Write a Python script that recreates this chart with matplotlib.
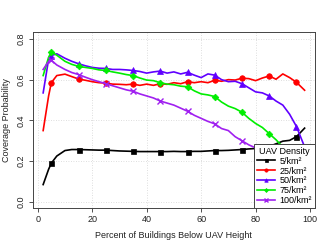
import matplotlib
matplotlib.use("Agg")
import matplotlib.pyplot as plt

# percent of buildings below UAV height
x = [2, 4, 5, 7, 10,
     12.5, 15, 17.5, 20, 22.5, 25, 27.5, 30, 32.5, 35, 37.5, 40, 42.5, 45, 47.5,
     50, 52.5, 55, 57.5, 60, 62.5, 65, 67.5, 70, 72.5, 75, 77.5, 80, 82.5, 85,
     87.5, 90, 92.5, 95, 98]

d5 = [0.085, 0.16, 0.19, 0.225, 0.252,
      0.257, 0.257, 0.256, 0.255, 0.254, 0.254, 0.252, 0.250, 0.249, 0.248, 0.247, 0.247, 0.247, 0.247, 0.247,
      0.248, 0.247, 0.247, 0.248, 0.248, 0.250, 0.252, 0.252, 0.253, 0.255, 0.257, 0.260, 0.262, 0.265, 0.272,
      0.285, 0.298, 0.302, 0.320, 0.362]
d25 = [0.35, 0.52, 0.585, 0.62, 0.627,
       0.615, 0.603, 0.597, 0.590, 0.585, 0.583, 0.578, 0.577, 0.575, 0.578, 0.572, 0.578, 0.572, 0.580, 0.577,
       0.585, 0.580, 0.590, 0.585, 0.590, 0.585, 0.597, 0.592, 0.600, 0.598, 0.607, 0.605, 0.595, 0.608, 0.618,
       0.602, 0.628, 0.610, 0.587, 0.548]
d50 = [0.535, 0.70, 0.718, 0.727, 0.705,
       0.690, 0.678, 0.668, 0.660, 0.656, 0.655, 0.650, 0.650, 0.648, 0.645, 0.640, 0.632, 0.638, 0.642, 0.632,
       0.638, 0.628, 0.636, 0.622, 0.610, 0.628, 0.622, 0.600, 0.590, 0.592, 0.580, 0.560, 0.540, 0.535, 0.520,
       0.495, 0.475, 0.430, 0.370, 0.270]
d75 = [0.62, 0.71, 0.735, 0.72, 0.69,
       0.675, 0.665, 0.660, 0.655, 0.648, 0.645, 0.638, 0.632, 0.625, 0.620, 0.608, 0.598, 0.595, 0.585, 0.578,
       0.575, 0.568, 0.565, 0.545, 0.530, 0.525, 0.517, 0.490, 0.470, 0.458, 0.440, 0.410, 0.385, 0.365, 0.335,
       0.305, 0.270, 0.240, 0.200, 0.160]
d100 = [0.65, 0.69, 0.695, 0.672, 0.65,
        0.635, 0.625, 0.612, 0.600, 0.590, 0.580, 0.570, 0.560, 0.550, 0.543, 0.530, 0.520, 0.510, 0.495, 0.485,
        0.475, 0.460, 0.445, 0.425, 0.410, 0.395, 0.383, 0.360, 0.350, 0.320, 0.300, 0.280, 0.265, 0.250, 0.230,
        0.210, 0.190, 0.170, 0.150, 0.130]

series = [d5, d25, d50, d75, d100]
labels = ["5/km²", "25/km²", "50/km²", "75/km²", "100/km²"]
colors = ["black", "#ff0000", "#6000ff", "#00ee00", "#a020f0"]
markers = ["s", "o", "^", "D", "x"]
msizes = [3.6, 4, 4.2, 3.4, 4]

# markers at 5, 15, ..., 95
mark_idx = [x.index(v) for v in [5, 15, 25, 35, 45, 55, 65, 75, 85, 95]]

plt.rcParams["font.family"] = ["Liberation Sans", "DejaVu Sans"]
plt.rcParams["font.size"] = 6.5

fig = plt.figure(figsize=(3.32, 2.49), dpi=100)
ax = fig.add_axes([0.0985, 0.163, 0.8505, 0.707])

for y, lab, c, m, ms in zip(series, labels, colors, markers, msizes):
    ax.plot(x, y, color=c, lw=1.2, marker=m, ms=ms, mew=1.0 if m == "x" else 0.5,
            markevery=mark_idx, label=lab)

ax.set_xlim(-1.84, 101.84)
ax.set_ylim(-0.032, 0.832)
ax.set_xticks([0, 20, 40, 60, 80, 100])
ax.set_yticks([0.0, 0.2, 0.4, 0.6, 0.8])
ax.set_yticklabels(["0.0", "0.2", "0.4", "0.6", "0.8"], rotation=90, va="center")
ax.grid(True, color="#d3d3d3", linestyle=(0, (1, 2)), lw=0.6)
ax.tick_params(length=3, width=0.6, color="#333333", pad=2, labelcolor="#222222")
for s in ax.spines.values():
    s.set_color("#444444")
    s.set_linewidth(0.7)

ax.set_xlabel("Percent of Buildings Below UAV Height", color="#222222", labelpad=5)
ax.set_ylabel("Coverage Probability", color="#222222", labelpad=4)

leg = ax.legend(loc="lower right", title="UAV Density", fancybox=False, framealpha=1,
                edgecolor="#444444", borderaxespad=0, markerscale=0.6, handlelength=2.0,
                handletextpad=0.5, labelspacing=0.1, fontsize=6.5, title_fontsize=6.5,
                borderpad=0.35)
leg.get_frame().set_linewidth(0.7)

fig.savefig("out.png", dpi=100)
